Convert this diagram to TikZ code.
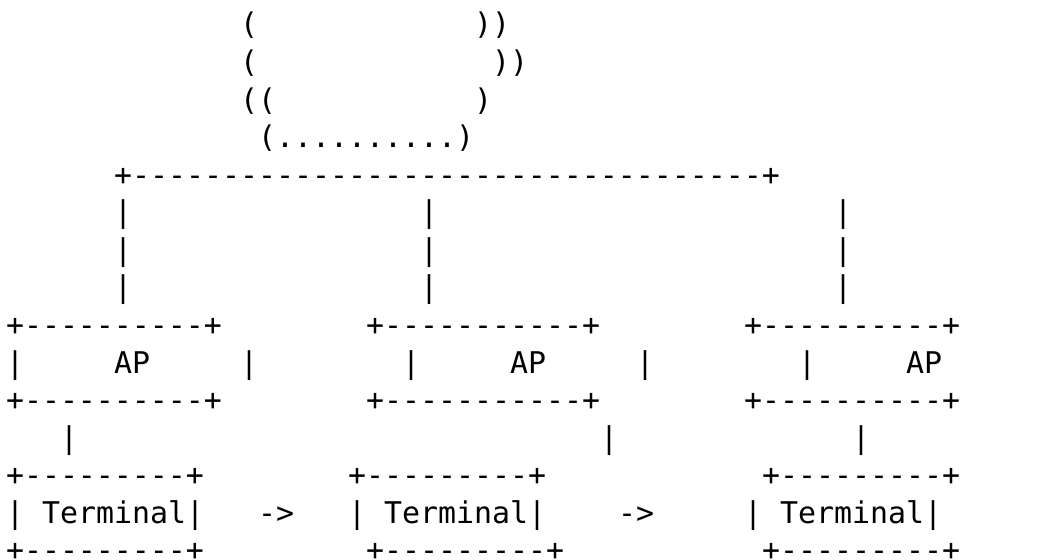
\documentclass[tikz,border=0pt]{standalone}
\usepackage{fontspec}
\newfontfamily\asciimono{DejaVu Sans Mono}[Ligatures=TeXOff]
\tikzset{
  glyphs/.style={inner sep=0pt, outer sep=0pt, anchor=base west, text=black,
    font=\asciimono\fontsize{29.9pt}{36pt}\selectfont},
}
% \cell{name}{row}{column}{characters}: one run of characters on the 18pt x 37.57pt grid
\newcommand\cell[4]{\node[glyphs] (#1) at ({6+18*#3},{524-37.57*#2}) {#4};}
\begin{document}
\begin{tikzpicture}[x=1pt,y=1pt]
\fill[white] (0,0) rectangle (1040,559);
\useasboundingbox (0,0) rectangle (1040,559);
% cloud
\cell{c0a}{0}{13}{(}
\cell{c0b}{0}{26}{))}
\cell{c1a}{1}{13}{(}
\cell{c1b}{1}{27}{))}
\cell{c2a}{2}{13}{((}
\cell{c2b}{2}{26}{)}
\cell{c3}{3}{14}{(..........)}
% backbone
\cell{bus}{4}{6}{+-----------------------------------+}
\foreach \r in {5,6,7}{
  \cell{dropA\r}{\r}{6}{|}
  \cell{dropB\r}{\r}{23}{|}
  \cell{dropC\r}{\r}{46}{|}
}
% access points
\cell{apAtop}{8}{0}{+----------+}
\cell{apBtop}{8}{20}{+-----------+}
\cell{apCtop}{8}{41}{+----------+}
\cell{apAl}{9}{0}{|}
\cell{apA}{9}{6}{AP}
\cell{apAr}{9}{13}{|}
\cell{apBl}{9}{22}{|}
\cell{apB}{9}{28}{AP}
\cell{apBr}{9}{35}{|}
\cell{apCl}{9}{44}{|}
\cell{apC}{9}{50}{AP}
\cell{apAbot}{10}{0}{+----------+}
\cell{apBbot}{10}{20}{+-----------+}
\cell{apCbot}{10}{41}{+----------+}
% links to terminals
\cell{linkA}{11}{3}{|}
\cell{linkB}{11}{33}{|}
\cell{linkC}{11}{47}{|}
% terminals
\cell{tAtop}{12}{0}{+---------+}
\cell{tBtop}{12}{19}{+---------+}
\cell{tCtop}{12}{42}{+---------+}
\cell{tAl}{13}{0}{|}
\cell{tA}{13}{2}{Terminal|}
\cell{moveAB}{13}{14}{->}
\cell{tBl}{13}{19}{|}
\cell{tB}{13}{21}{Terminal|}
\cell{moveBC}{13}{34}{->}
\cell{tCl}{13}{41}{|}
\cell{tC}{13}{43}{Terminal|}
\cell{tAbot}{14}{0}{+---------+}
\cell{tBbot}{14}{20}{+---------+}
\cell{tCbot}{14}{42}{+---------+}
\end{tikzpicture}
\end{document}
